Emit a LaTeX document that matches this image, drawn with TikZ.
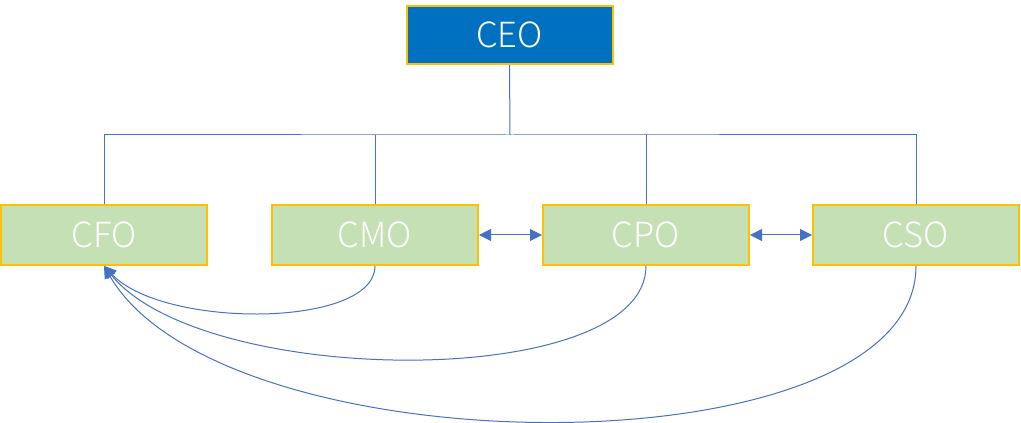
\documentclass[tikz,border=0pt]{standalone}
\usepackage{fontspec}
\setmainfont{Noto Sans CJK SC}[UprightFont=* Light]
\usetikzlibrary{arrows.meta}
\definecolor{boxblue}{RGB}{0,112,192}
\definecolor{boxgreen}{RGB}{197,224,180}
\definecolor{boxedge}{RGB}{255,192,0}
\definecolor{linkblue}{RGB}{68,114,196}
\tikzset{
  chief/.style={draw=boxedge, line width=1.5pt, text=white, font=\fontsize{26}{30}\selectfont,
    minimum width=154.5pt, minimum height=45pt, inner sep=0pt},
  link/.style={draw=linkblue, line width=0.75pt},
  tip/.style={-{Triangle[length=9pt,width=9pt]}},
  twotip/.style={{Triangle[length=9pt,width=9pt]}-{Triangle[length=9pt,width=9pt]}}
}
\begin{document}
\begin{tikzpicture}[x=0.75pt,y=0.75pt,yscale=-1,xscale=1]
\useasboundingbox (0,0) rectangle (1021,423);

%Top box
\node [chief, fill=boxblue, minimum height=43.5pt] (ceo) at (509.5,35) {CEO};
%Row of boxes
\node [chief, fill=boxgreen] (cfo) at (104,235) {CFO};
\node [chief, fill=boxgreen] (cmo) at (375,235) {CMO};
\node [chief, fill=boxgreen] (cpo) at (646,235) {CPO};
\node [chief, fill=boxgreen] (cso) at (916,235) {CSO};

%Tree lines
\coordinate (bus) at (510,135);
\draw [link] (ceo.south) -- (bus);
\draw [link] (cfo.north) |- (bus) -| (cso.north);
\draw [link] (cmo.north) -- (cmo.north |- bus);
\draw [link] (cpo.north) -- (cpo.north |- bus);

%Side arrows
\draw [link, twotip, fill=linkblue] (cmo.east) -- (cpo.west);
\draw [link, twotip, fill=linkblue] (cpo.east) -- (cso.west);

%Curves back to CFO
\draw [link, tip, fill=none] (cmo.south) .. controls +(0,62) and +(60,63) .. (cfo.south);
\draw [link, tip, fill=none] (cpo.south) .. controls +(0,125) and +(100,123) .. (cfo.south);
\draw [link, tip, fill=none] (cso.south) .. controls +(0,208) and +(120,206) .. (cfo.south);

\end{tikzpicture}
\end{document}
